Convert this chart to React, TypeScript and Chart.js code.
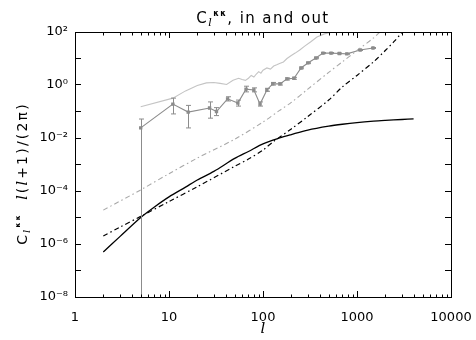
import React, { useEffect, useRef } from "react";
import { Chart, registerables } from "chart.js";

Chart.register(...registerables);

// ---- data ----
const theoryL = [2, 3, 5, 7, 10, 15, 20, 30, 50, 70, 100, 150, 200, 300, 500, 700, 1000, 1500, 2000, 3000, 4000];
const signalVals = [5e-7, 1.9e-6, 1e-5, 2.5e-5, 6e-5, 1.4e-4, 2.6e-4, 5.5e-4, 1.7e-3, 3.1e-3, 6e-3, 1e-2, 1.35e-2, 2e-2, 2.8e-2, 3.3e-2, 3.8e-2, 4.3e-2, 4.6e-2, 5e-2, 5.3e-2];

const noiseL = [2, 3, 5, 10, 20, 50, 70, 100, 130, 200, 300, 500, 700, 1000, 1500, 2000, 2500, 3000];
const noiseVals = [2e-6, 4.3e-6, 1.1e-5, 4e-5, 1.45e-4, 8.5e-4, 1.6e-3, 3.5e-3, 7.5e-3, 2.2e-2, 6.5e-2, 0.27, 0.85, 2.3, 7.5, 20, 45, 95];

const grayNoiseL = [2, 5, 10, 20, 50, 100, 150, 200, 300, 500, 700, 1000, 1500, 1750];
const grayNoiseVals = [1.9e-5, 1.1e-4, 4.5e-4, 1.75e-3, 9e-3, 4e-2, 0.11, 0.22, 0.7, 3, 7.5, 20, 60, 100];

const inputL = [5, 11, 15, 20, 25, 30, 35, 41, 48, 55, 60, 65, 70, 75, 80, 85, 90, 95, 100, 110, 120, 130, 140, 150, 165, 180, 200, 220, 246, 280, 320, 375, 450, 550];
const inputVals = [0.15, 0.32, 0.6, 0.95, 1.2, 1.25, 1.15, 1.05, 1.5, 1.8, 1.6, 1.5, 1.8, 2.3, 2.0, 2.6, 3.2, 2.8, 3.6, 4.4, 4.0, 5.2, 5.8, 6.5, 7.4, 10, 13, 16, 21, 30, 42, 65, 85, 100];

const outputL = [5, 11, 16, 27, 32, 42, 54, 66, 80, 93, 110, 127, 152, 180, 214, 254, 300, 365, 435, 530, 650, 780, 1080, 1480];
const outputVals = [0.024, 0.19, 0.095, 0.135, 0.1, 0.3, 0.21, 0.7, 0.65, 0.19, 0.65, 1.1, 1.1, 1.7, 1.8, 4.4, 6.8, 10.4, 16, 16, 15.5, 15, 21, 25];
const outputLow = [1e-10, 0.081, 0.024, 0.056, 0.07, 0.25, 0.16, 0.55, 0.55, 0.16, 0.58, 1.0, 1.0, 1.55, 1.65, 4.1, 6.4, 9.8, 15.2, 15.2, 14.8, 14.4, 20, 24];
const outputHigh = [0.052, 0.32, 0.17, 0.23, 0.14, 0.36, 0.27, 0.9, 0.78, 0.23, 0.75, 1.25, 1.2, 1.85, 1.95, 4.7, 7.2, 11, 16.8, 16.8, 16.2, 15.6, 22, 26];

const xTickValues = [1, 10, 100, 1000, 10000];
const xTickLabels = ["1", "10", "100", "1000", "10000"];
const xMinorTicks = [2, 3, 4, 5, 6, 7, 8, 9, 20, 30, 40, 50, 60, 70, 80, 90, 200, 300, 400, 500, 600, 700, 800, 900, 2000, 3000, 4000, 5000, 6000, 7000, 8000, 9000];
const yTickValues = [1e-8, 1e-7, 1e-6, 1e-5, 1e-4, 1e-3, 1e-2, 1e-1, 1, 10, 100];
const yTickLabels = ["10⁻⁸", "", "10⁻⁶", "", "10⁻⁴", "", "10⁻²", "", "10⁰", "", "10²"];

const FONT = "DejaVu Sans";
const AXIS_COLOR = "#000000";

type Seg = { t: string; size: number; italic?: boolean; bold?: boolean; dy?: number; family?: string };

function drawRich(ctx: CanvasRenderingContext2D, segs: Seg[], x: number, y: number, spacing = 0) {
  const fontOf = (s: Seg) => `${s.italic ? "italic " : ""}${s.bold ? "bold " : ""}${s.size}px "${s.family || FONT}"`;
  let w = 0;
  const widths = segs.map((s) => {
    ctx.font = fontOf(s);
    (ctx as any).letterSpacing = spacing + "px";
    const m = ctx.measureText(s.t).width;
    w += m;
    return m;
  });
  let cx = x - w / 2;
  ctx.textAlign = "left";
  ctx.textBaseline = "alphabetic";
  segs.forEach((s, i) => {
    ctx.font = fontOf(s);
    (ctx as any).letterSpacing = spacing + "px";
    ctx.fillText(s.t, cx, y + (s.dy || 0));
    cx += widths[i];
  });
  (ctx as any).letterSpacing = "0px";
}

const overlayPlugin = {
  id: "overlay",
  afterDatasetsDraw(chart: any) {
    const { ctx, chartArea: a, scales } = chart;
    const xs = scales.x;
    const ys = scales.y;
    ctx.save();
    ctx.setLineDash([]);
    ctx.beginPath();
    ctx.rect(a.left - 1, a.top - 1, a.right - a.left + 2, a.bottom - a.top + 2);
    ctx.clip();
    // error bars
    ctx.strokeStyle = "#8c8c8c";
    ctx.lineWidth = 1;
    outputL.forEach((l, i) => {
      const px = Math.round(xs.getPixelForValue(l)) + 0.5;
      const yl = ys.getPixelForValue(outputLow[i]);
      const yh = ys.getPixelForValue(outputHigh[i]);
      ctx.beginPath();
      ctx.moveTo(px, Math.min(yl, a.bottom + 2));
      ctx.lineTo(px, yh);
      ctx.moveTo(px - 2.5, yh);
      ctx.lineTo(px + 2.5, yh);
      if (yl < a.bottom) {
        ctx.moveTo(px - 2.5, yl);
        ctx.lineTo(px + 2.5, yl);
      }
      ctx.stroke();
    });
    // frame and minor x ticks
    ctx.strokeStyle = AXIS_COLOR;
    const L = Math.round(a.left) + 0.5;
    const R = Math.round(a.right) + 0.5;
    const T = Math.round(a.top) + 0.5;
    const B = Math.round(a.bottom) + 0.5;
    ctx.beginPath();
    ctx.moveTo(L, T);
    ctx.lineTo(R, T);
    ctx.lineTo(R, B);
    ctx.lineTo(L, B);
    ctx.closePath();
    xMinorTicks.forEach((v) => {
      const px = Math.round(xs.getPixelForValue(v)) + 0.5;
      ctx.moveTo(px, B);
      ctx.lineTo(px, B - 3);
      ctx.moveTo(px, T);
      ctx.lineTo(px, T + 3);
    });
    ctx.stroke();
    ctx.restore();
  },
  afterDraw(chart: any) {
    const { ctx, chartArea: a } = chart;
    ctx.save();
    ctx.fillStyle = "#000000";
    drawRich(
      ctx,
      [
        { t: "C", size: 15 },
        { t: "l", size: 11, italic: true, dy: 3, family: "DejaVu Serif" },
        { t: "κκ", size: 8, bold: true, dy: -7 },
        { t: ", in and out", size: 15 },
      ],
      (a.left + a.right) / 2,
      23,
      1.4
    );
    drawRich(ctx, [{ t: "l", size: 15, italic: true, family: "DejaVu Serif" }], (a.left + a.right) / 2, 333);
    ctx.save();
    ctx.translate(27, (a.top + a.bottom) / 2 + 9);
    ctx.rotate(-Math.PI / 2);
    drawRich(
      ctx,
      [
        { t: "C", size: 14 },
        { t: "l", size: 10, italic: true, dy: 3, family: "DejaVu Serif" },
        { t: "κκ", size: 7, bold: true, dy: -7 },
        { t: "  ", size: 14 },
        { t: "l", size: 14, italic: true, family: "DejaVu Serif" },
        { t: "(", size: 14 },
        { t: "l", size: 14, italic: true, family: "DejaVu Serif" },
        { t: "+1)/(2π)", size: 14 },
      ],
      0,
      0,
      2.2
    );
    ctx.restore();
    ctx.restore();
  },
};

const pts = (xs: number[], ys: number[]) => xs.map((x, i) => ({ x, y: ys[i] }));

const axisGrid = { display: true, drawOnChartArea: false, drawTicks: true, tickLength: -6, color: AXIS_COLOR, lineWidth: 1 };
const axisBorder = { display: true, color: AXIS_COLOR, width: 1 };

export default function App() {
  const ref = useRef<HTMLCanvasElement>(null);
  useEffect(() => {
    if (!ref.current) return;
    const xBuild = (s: any) => {
      s.ticks = xTickValues.map((v) => ({ value: v }));
    };
    const yBuild = (s: any) => {
      s.ticks = yTickValues.map((v) => ({ value: v }));
    };
    const chart = new Chart(ref.current, {
      type: "line",
      data: {
        datasets: [
          { data: pts(theoryL, signalVals), xAxisID: "x", yAxisID: "y", borderColor: "#000", borderWidth: 1.3, pointRadius: 0, tension: 0.3 },
          {
            data: pts(noiseL, noiseVals),
            xAxisID: "x",
            yAxisID: "y",
            borderColor: "#000",
            borderWidth: 1.2,
            borderDash: [5, 3, 1.5, 3],
            pointRadius: 0,
            tension: 0.3,
          },
          {
            data: pts(grayNoiseL, grayNoiseVals),
            xAxisID: "x",
            yAxisID: "y",
            borderColor: "#a8a8a8",
            borderWidth: 1.1,
            borderDash: [5, 3, 1.5, 3],
            pointRadius: 0,
            tension: 0.3,
          },
          { data: pts(inputL, inputVals), xAxisID: "x", yAxisID: "y", borderColor: "#c4c4c4", borderWidth: 1.1, pointRadius: 0, tension: 0 },
          {
            data: pts(outputL, outputVals),
            xAxisID: "x",
            yAxisID: "y",
            borderColor: "#8c8c8c",
            backgroundColor: "#8c8c8c",
            borderWidth: 1.1,
            pointStyle: "rect",
            pointRadius: 1.6,
            tension: 0,
          },
        ],
      },
      options: {
        animation: false,
        responsive: false,
        devicePixelRatio: 1,
        layout: { padding: { top: 32, right: 25, left: 0, bottom: 0 } },
        plugins: { legend: { display: false }, tooltip: { enabled: false }, title: { display: false } },
        scales: {
          x: {
            type: "logarithmic",
            position: "bottom",
            min: 1,
            max: 10000,
            grid: axisGrid,
            border: axisBorder,
            afterBuildTicks: xBuild,
            afterFit: (s: any) => {
              s.height = 43;
              s.paddingLeft = 0;
              s.paddingRight = 0;
            },
            ticks: {
              autoSkip: false,
              maxRotation: 0,
              padding: 19,
              color: "#000",
              font: { family: FONT, size: 13 },
              callback: (v: any) => {
                const i = xTickValues.indexOf(Number(v));
                return i >= 0 ? xTickLabels[i] : "";
              },
            },
          },
          x2: {
            type: "logarithmic",
            position: "top",
            min: 1,
            max: 10000,
            grid: axisGrid,
            border: axisBorder,
            afterBuildTicks: xBuild,
            afterFit: (s: any) => {
              s.height = 0;
              s.paddingLeft = 0;
              s.paddingRight = 0;
            },
            ticks: { display: false },
          },
          y: {
            type: "logarithmic",
            position: "left",
            min: 1e-8,
            max: 100,
            grid: axisGrid,
            border: axisBorder,
            afterBuildTicks: yBuild,
            afterFit: (s: any) => {
              s.width = 75;
              s.paddingTop = 0;
              s.paddingBottom = 0;
            },
            ticks: {
              autoSkip: false,
              padding: 13,
              color: "#000",
              font: { family: FONT, size: 13 },
              callback: (v: any) => {
                const i = yTickValues.findIndex((t) => Math.abs(Math.log10(t) - Math.log10(Number(v))) < 1e-6);
                return i >= 0 ? yTickLabels[i] : "";
              },
            },
          },
          y2: {
            type: "logarithmic",
            position: "right",
            min: 1e-8,
            max: 100,
            grid: axisGrid,
            border: axisBorder,
            afterBuildTicks: yBuild,
            afterFit: (s: any) => {
              s.width = 0;
              s.paddingTop = 0;
              s.paddingBottom = 0;
            },
            ticks: { display: false },
          },
        },
      },
      plugins: [overlayPlugin],
    });
    return () => chart.destroy();
  }, []);
  return (
    <div style={{ position: "fixed", left: 0, top: 0, width: 476, height: 340, background: "#fff" }}>
      <canvas ref={ref} width={476} height={340} style={{ display: "block", width: 476, height: 340 }} />
    </div>
  );
}
